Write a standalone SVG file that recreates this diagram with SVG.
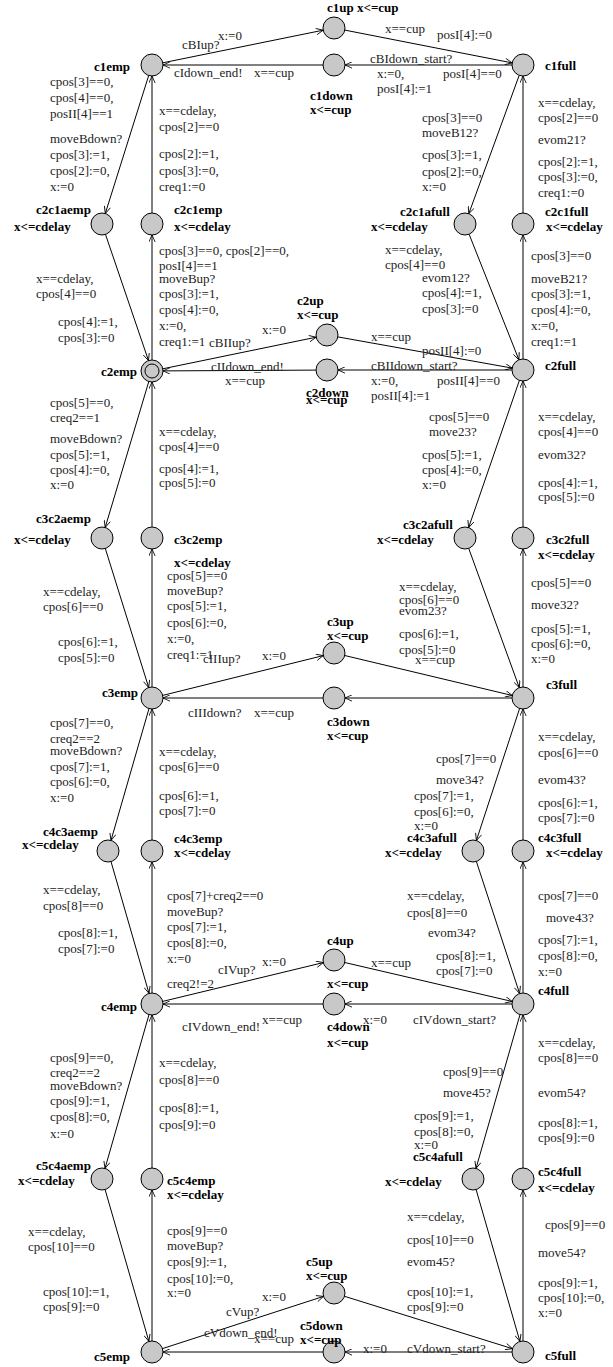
<svg xmlns="http://www.w3.org/2000/svg" width="613" height="1367" viewBox="0 0 613 1367">
<defs>
<marker id="ah" viewBox="0 0 10 10" refX="10" refY="5" markerWidth="8" markerHeight="7" markerUnits="userSpaceOnUse" orient="auto">
<path d="M0,0.5 L10,5 L0,9.5" fill="none" stroke="#000" stroke-width="1.2"/>
</marker>
</defs>
<style>
.nd{fill:#c8c8c8;stroke:#000;stroke-width:1}
.n{font-family:"Liberation Serif",serif;font-size:13px;font-weight:bold;fill:#000}
.l{font-family:"Liberation Serif",serif;font-size:13px;fill:#222}
.e{stroke:#000;stroke-width:1;fill:none;marker-end:url(#ah)}
</style>
<rect width="613" height="1367" fill="#fff"/>
<g id="connectors">
<!-- row 1 -->
<line class="e" x1="162.8" y1="62.8" x2="323.2" y2="30.2"/>
<line class="e" x1="344.8" y1="30.1" x2="512.2" y2="62.9"/>
<line class="e" x1="512" y1="65" x2="345" y2="65"/>
<line class="e" x1="323" y1="65" x2="163" y2="65"/>
<!-- row 2 -->
<line class="e" x1="162.8" y1="368.8" x2="316.2" y2="337.2"/>
<line class="e" x1="337.8" y1="336.9" x2="512.2" y2="368.1"/>
<line class="e" x1="512" y1="370" x2="338" y2="370"/>
<line class="e" x1="316" y1="370.1" x2="163" y2="370.9"/>
<!-- row 3 -->
<line class="e" x1="162.7" y1="695.4" x2="323.3" y2="655.6"/>
<line class="e" x1="344.7" y1="655.5" x2="512.3" y2="695.5"/>
<line class="e" x1="512" y1="698" x2="345" y2="698"/>
<line class="e" x1="323" y1="698" x2="163" y2="698"/>
<!-- row 4 -->
<line class="e" x1="162.7" y1="1001.4" x2="323.3" y2="962.6"/>
<line class="e" x1="344.7" y1="962.5" x2="512.3" y2="1001.5"/>
<line class="e" x1="512" y1="1004" x2="345" y2="1004"/>
<line class="e" x1="323" y1="1004" x2="163" y2="1004"/>
<!-- row 5 -->
<line class="e" x1="162.5" y1="1348.6" x2="323.5" y2="1296.4"/>
<line class="e" x1="344.5" y1="1296.3" x2="512.5" y2="1348.7"/>
<line class="e" x1="512" y1="1352" x2="345" y2="1352"/>
<line class="e" x1="323" y1="1352" x2="163" y2="1352"/>
<!-- verticals 1-2 -->
<line class="e" x1="148.7" y1="75.5" x2="105.3" y2="213.5"/>
<line class="e" x1="105.5" y1="234.4" x2="148.5" y2="360.6"/>
<line class="e" x1="152" y1="360" x2="152" y2="235"/>
<line class="e" x1="152" y1="213" x2="152" y2="76"/>
<line class="e" x1="519.2" y1="75.3" x2="468.8" y2="213.7"/>
<line class="e" x1="469.1" y1="234.2" x2="518.9" y2="359.8"/>
<line class="e" x1="523" y1="359" x2="523" y2="235"/>
<line class="e" x1="523" y1="213" x2="523" y2="76"/>
<!-- verticals 2-3 -->
<line class="e" x1="148.8" y1="381.5" x2="105.2" y2="527.5"/>
<line class="e" x1="105.3" y1="548.5" x2="148.7" y2="687.5"/>
<line class="e" x1="152" y1="687" x2="152" y2="549"/>
<line class="e" x1="152" y1="527" x2="152" y2="382"/>
<line class="e" x1="519.4" y1="380.4" x2="468.6" y2="527.6"/>
<line class="e" x1="468.7" y1="548.3" x2="519.3" y2="687.7"/>
<line class="e" x1="523" y1="687" x2="523" y2="549"/>
<line class="e" x1="523" y1="527" x2="523" y2="381"/>
<!-- verticals 3-4 -->
<line class="e" x1="149" y1="708.6" x2="111" y2="840.4"/>
<line class="e" x1="111" y1="861.6" x2="149" y2="993.4"/>
<line class="e" x1="152" y1="993" x2="152" y2="862"/>
<line class="e" x1="152" y1="840" x2="152" y2="709"/>
<line class="e" x1="519.6" y1="708.5" x2="476.4" y2="840.5"/>
<line class="e" x1="476.4" y1="861.5" x2="519.6" y2="993.5"/>
<line class="e" x1="523" y1="993" x2="523" y2="862"/>
<line class="e" x1="523" y1="840" x2="523" y2="709"/>
<!-- verticals 4-5 -->
<line class="e" x1="149" y1="1014.6" x2="105" y2="1168.4"/>
<line class="e" x1="105.1" y1="1189.6" x2="148.9" y2="1341.4"/>
<line class="e" x1="152" y1="1341" x2="152" y2="1190"/>
<line class="e" x1="152" y1="1168" x2="152" y2="1015"/>
<line class="e" x1="520" y1="1014.6" x2="476" y2="1168.4"/>
<line class="e" x1="476.1" y1="1189.6" x2="519.9" y2="1341.4"/>
<line class="e" x1="523" y1="1341" x2="523" y2="1190"/>
<line class="e" x1="523" y1="1168" x2="523" y2="1015"/>
</g>
<g id="edge-labels">
<!-- row 1 -->
<text class="l" x="182" y="49">cBIup?</text>
<text class="l" x="218" y="40">x:=0</text>
<text class="l" x="385" y="33">x==cup</text>
<text class="l" x="437" y="39">posI[4]:=0</text>
<text class="l" x="370" y="63">cBIdown_start?</text>
<text class="l" x="377" y="78">x:=0,</text>
<text class="l" x="443" y="78">posI[4]==0</text>
<text class="l" x="377" y="93">posI[4]:=1</text>
<text class="l" x="174" y="77">cIdown_end!</text>
<text class="l" x="254" y="77">x==cup</text>
<!-- row 2 -->
<text class="l" x="209" y="347">cBIIup?</text>
<text class="l" x="262" y="334">x:=0</text>
<text class="l" x="371" y="341">x==cup</text>
<text class="l" x="422" y="355">posII[4]:=0</text>
<text class="l" x="371" y="370">cBIIdown_start?</text>
<text class="l" x="371" y="385">x:=0,</text>
<text class="l" x="437" y="385">posII[4]==0</text>
<text class="l" x="371" y="400">posII[4]:=1</text>
<text class="l" x="211" y="371">cIIdown_end!</text>
<text class="l" x="225" y="385">x==cup</text>
<!-- row 3 -->
<text class="l" x="203" y="663">cIIIup?</text>
<text class="l" x="262" y="660">x:=0</text>
<text class="l" x="415" y="664">x==cup</text>
<text class="l" x="188" y="717">cIIIdown?</text>
<text class="l" x="254" y="717">x==cup</text>
<!-- row 4 -->
<text class="l" x="167" y="988">creq2!=2</text>
<text class="l" x="218" y="974">cIVup?</text>
<text class="l" x="262" y="966">x:=0</text>
<text class="l" x="371" y="967">x==cup</text>
<text class="l" x="363" y="1024">x:=0</text>
<text class="l" x="413" y="1024">cIVdown_start?</text>
<text class="l" x="182" y="1031">cIVdown_end!</text>
<text class="l" x="262" y="1024">x==cup</text>
<!-- row 5 -->
<text class="l" x="226" y="1316">cVup?</text>
<text class="l" x="262" y="1301">x:=0</text>
<text class="l" x="363" y="1353">x:=0</text>
<text class="l" x="407" y="1353">cVdown_start?</text>
<text class="l" x="204" y="1337">cVdown_end!</text>
<text class="l" x="254" y="1343">x==cup</text>
<!-- left 1-2 -->
<text class="l" x="50" y="86">cpos[3]==0,</text>
<text class="l" x="50" y="102">cpos[4]==0,</text>
<text class="l" x="50" y="118">posII[4]==1</text>
<text class="l" x="50" y="143">moveBdown?</text>
<text class="l" x="50" y="159">cpos[3]:=1,</text>
<text class="l" x="50" y="175">cpos[2]:=0,</text>
<text class="l" x="50" y="191">x:=0</text>
<text class="l" x="159" y="115">x==cdelay,</text>
<text class="l" x="159" y="131">cpos[2]==0</text>
<text class="l" x="159" y="158">cpos[2]:=1,</text>
<text class="l" x="159" y="175">cpos[3]:=0,</text>
<text class="l" x="159" y="191">creq1:=0</text>
<text class="l" x="36" y="283">x==cdelay,</text>
<text class="l" x="36" y="298">cpos[4]==0</text>
<text class="l" x="58" y="326">cpos[4]:=1,</text>
<text class="l" x="58" y="342">cpos[3]:=0</text>
<text class="l" x="159" y="255">cpos[3]==0, cpos[2]==0,</text>
<text class="l" x="159" y="270">posI[4]==1</text>
<text class="l" x="159" y="283">moveBup?</text>
<text class="l" x="159" y="298">cpos[3]:=1,</text>
<text class="l" x="159" y="314">cpos[4]:=0,</text>
<text class="l" x="159" y="330">x:=0,</text>
<text class="l" x="159" y="346">creq1:=1</text>
<!-- right 1-2 -->
<text class="l" x="422" y="122">cpos[3]==0</text>
<text class="l" x="422" y="137">moveB12?</text>
<text class="l" x="422" y="159">cpos[3]:=1,</text>
<text class="l" x="422" y="176">cpos[2]:=0,</text>
<text class="l" x="422" y="191">x:=0</text>
<text class="l" x="538" y="107">x==cdelay,</text>
<text class="l" x="538" y="122">cpos[2]==0</text>
<text class="l" x="538" y="144">evom21?</text>
<text class="l" x="538" y="166">cpos[2]:=1,</text>
<text class="l" x="538" y="181">cpos[3]:=0,</text>
<text class="l" x="538" y="197">creq1:=0</text>
<text class="l" x="385" y="254">x==cdelay,</text>
<text class="l" x="385" y="269">cpos[4]==0</text>
<text class="l" x="422" y="282">evom12?</text>
<text class="l" x="422" y="297">cpos[4]:=1,</text>
<text class="l" x="422" y="313">cpos[3]:=0</text>
<text class="l" x="531" y="260">cpos[3]==0</text>
<text class="l" x="531" y="283">moveB21?</text>
<text class="l" x="531" y="298">cpos[3]:=1,</text>
<text class="l" x="531" y="314">cpos[4]:=0,</text>
<text class="l" x="531" y="330">x:=0,</text>
<text class="l" x="531" y="346">creq1:=1</text>
<!-- left 2-3 -->
<text class="l" x="50" y="407">cpos[5]==0,</text>
<text class="l" x="50" y="422">creq2==1</text>
<text class="l" x="50" y="443">moveBdown?</text>
<text class="l" x="50" y="459">cpos[5]:=1,</text>
<text class="l" x="50" y="474">cpos[4]:=0,</text>
<text class="l" x="50" y="489">x:=0</text>
<text class="l" x="159" y="436">x==cdelay,</text>
<text class="l" x="159" y="451">cpos[4]==0</text>
<text class="l" x="159" y="473">cpos[4]:=1,</text>
<text class="l" x="159" y="487">cpos[5]:=0</text>
<text class="l" x="43" y="596">x==cdelay,</text>
<text class="l" x="43" y="611">cpos[6]==0</text>
<text class="l" x="58" y="646">cpos[6]:=1,</text>
<text class="l" x="58" y="662">cpos[5]:=0</text>
<text class="l" x="167" y="580">cpos[5]==0</text>
<text class="l" x="167" y="595">moveBup?</text>
<text class="l" x="167" y="610">cpos[5]:=1,</text>
<text class="l" x="167" y="627">cpos[6]:=0,</text>
<text class="l" x="167" y="643">x:=0,</text>
<text class="l" x="167" y="659">creq1:=1</text>
<!-- right 2-3 -->
<text class="l" x="429" y="421">cpos[5]==0</text>
<text class="l" x="429" y="436">move23?</text>
<text class="l" x="422" y="459">cpos[5]:=1,</text>
<text class="l" x="422" y="474">cpos[4]:=0,</text>
<text class="l" x="422" y="489">x:=0</text>
<text class="l" x="538" y="421">x==cdelay,</text>
<text class="l" x="538" y="436">cpos[4]==0</text>
<text class="l" x="538" y="459">evom32?</text>
<text class="l" x="538" y="487">cpos[4]:=1,</text>
<text class="l" x="538" y="501">cpos[5]:=0</text>
<text class="l" x="399" y="591">x==cdelay,</text>
<text class="l" x="399" y="604">cpos[6]==0</text>
<text class="l" x="399" y="615">evom23?</text>
<text class="l" x="399" y="638">cpos[6]:=1,</text>
<text class="l" x="399" y="654">cpos[5]:=0</text>
<text class="l" x="531" y="587">cpos[5]==0</text>
<text class="l" x="531" y="609">move32?</text>
<text class="l" x="531" y="633">cpos[5]:=1,</text>
<text class="l" x="531" y="648">cpos[6]:=0,</text>
<text class="l" x="531" y="663">x:=0</text>
<!-- left 3-4 -->
<text class="l" x="50" y="727">cpos[7]==0,</text>
<text class="l" x="50" y="743">creq2==2</text>
<text class="l" x="50" y="755">moveBdown?</text>
<text class="l" x="50" y="771">cpos[7]:=1,</text>
<text class="l" x="50" y="786">cpos[6]:=0,</text>
<text class="l" x="50" y="802">x:=0</text>
<text class="l" x="159" y="756">x==cdelay,</text>
<text class="l" x="159" y="771">cpos[6]==0</text>
<text class="l" x="159" y="800">cpos[6]:=1,</text>
<text class="l" x="159" y="815">cpos[7]:=0</text>
<text class="l" x="43" y="894">x==cdelay,</text>
<text class="l" x="43" y="910">cpos[8]==0</text>
<text class="l" x="58" y="937">cpos[8]:=1,</text>
<text class="l" x="58" y="953">cpos[7]:=0</text>
<text class="l" x="167" y="900">cpos[7]+creq2==0</text>
<text class="l" x="167" y="916">moveBup?</text>
<text class="l" x="167" y="931">cpos[7]:=1,</text>
<text class="l" x="167" y="947">cpos[8]:=0,</text>
<text class="l" x="167" y="963">x:=0</text>
<!-- right 3-4 -->
<text class="l" x="436" y="763">cpos[7]==0</text>
<text class="l" x="436" y="784">move34?</text>
<text class="l" x="414" y="800">cpos[7]:=1,</text>
<text class="l" x="414" y="816">cpos[6]:=0,</text>
<text class="l" x="414" y="830">x:=0</text>
<text class="l" x="538" y="741">x==cdelay,</text>
<text class="l" x="538" y="757">cpos[6]==0</text>
<text class="l" x="538" y="784">evom43?</text>
<text class="l" x="538" y="807">cpos[6]:=1,</text>
<text class="l" x="538" y="822">cpos[7]:=0</text>
<text class="l" x="407" y="900">x==cdelay,</text>
<text class="l" x="407" y="917">cpos[8]==0</text>
<text class="l" x="428" y="937">evom34?</text>
<text class="l" x="436" y="960">cpos[8]:=1,</text>
<text class="l" x="436" y="975">cpos[7]:=0</text>
<text class="l" x="538" y="900">cpos[7]==0</text>
<text class="l" x="546" y="922">move43?</text>
<text class="l" x="538" y="944">cpos[7]:=1,</text>
<text class="l" x="538" y="960">cpos[8]:=0,</text>
<text class="l" x="538" y="976">x:=0</text>
<!-- left 4-5 -->
<text class="l" x="50" y="1062">cpos[9]==0,</text>
<text class="l" x="50" y="1077">creq2==2</text>
<text class="l" x="50" y="1090">moveBdown?</text>
<text class="l" x="50" y="1105">cpos[9]:=1,</text>
<text class="l" x="50" y="1121">cpos[8]:=0,</text>
<text class="l" x="50" y="1138">x:=0</text>
<text class="l" x="159" y="1067">x==cdelay,</text>
<text class="l" x="159" y="1084">cpos[8]==0</text>
<text class="l" x="159" y="1112">cpos[8]:=1,</text>
<text class="l" x="159" y="1129">cpos[9]:=0</text>
<text class="l" x="28" y="1236">x==cdelay,</text>
<text class="l" x="28" y="1251">cpos[10]==0</text>
<text class="l" x="43" y="1296">cpos[10]:=1,</text>
<text class="l" x="43" y="1311">cpos[9]:=0</text>
<text class="l" x="167" y="1235">cpos[9]==0</text>
<text class="l" x="167" y="1250">moveBup?</text>
<text class="l" x="167" y="1266">cpos[9]:=1,</text>
<text class="l" x="167" y="1283">cpos[10]:=0,</text>
<text class="l" x="167" y="1297">x:=0</text>
<!-- right 4-5 -->
<text class="l" x="443" y="1076">cpos[9]==0</text>
<text class="l" x="443" y="1097">move45?</text>
<text class="l" x="414" y="1120">cpos[9]:=1,</text>
<text class="l" x="414" y="1136">cpos[8]:=0,</text>
<text class="l" x="414" y="1149">x:=0</text>
<text class="l" x="538" y="1047">x==cdelay,</text>
<text class="l" x="538" y="1062">cpos[8]==0</text>
<text class="l" x="538" y="1097">evom54?</text>
<text class="l" x="538" y="1127">cpos[8]:=1,</text>
<text class="l" x="538" y="1142">cpos[9]:=0</text>
<text class="l" x="407" y="1221">x==cdelay,</text>
<text class="l" x="407" y="1244">cpos[10]==0</text>
<text class="l" x="407" y="1266">evom45?</text>
<text class="l" x="407" y="1296">cpos[10]:=1,</text>
<text class="l" x="407" y="1311">cpos[9]:=0</text>
<text class="l" x="545" y="1229">cpos[9]==0</text>
<text class="l" x="538" y="1257">move54?</text>
<text class="l" x="538" y="1287">cpos[9]:=1,</text>
<text class="l" x="538" y="1302">cpos[10]:=0,</text>
<text class="l" x="538" y="1317">x:=0</text>
</g>
<!-- nodes -->
<g id="c1emp"><circle class="nd" cx="152" cy="65" r="11"/><text class="n" x="94" y="71">c1emp</text></g>
<g id="c1up"><circle class="nd" cx="334" cy="28" r="11"/><text class="n" x="327" y="12">c1up x&lt;=cup</text></g>
<g id="c1down"><circle class="nd" cx="334" cy="65" r="11"/><text class="n" x="310" y="100">c1down</text><text class="n" x="310" y="114">x&lt;=cup</text></g>
<g id="c1full"><circle class="nd" cx="523" cy="65" r="11"/><text class="n" x="545" y="70">c1full</text></g>
<g id="c2c1aemp"><circle class="nd" cx="102" cy="224" r="11"/><text class="n" x="36" y="214">c2c1aemp</text><text class="n" x="14" y="231">x&lt;=cdelay</text></g>
<g id="c2c1emp"><circle class="nd" cx="152" cy="224" r="11"/><text class="n" x="174" y="214">c2c1emp</text><text class="n" x="174" y="231">x&lt;=cdelay</text></g>
<g id="c2c1afull"><circle class="nd" cx="465" cy="224" r="11"/><text class="n" x="400" y="216">c2c1afull</text><text class="n" x="371" y="231">x&lt;=cdelay</text></g>
<g id="c2c1full"><circle class="nd" cx="523" cy="224" r="11"/><text class="n" x="545" y="216">c2c1full</text><text class="n" x="546" y="231">x&lt;=cdelay</text></g>
<g id="c2emp"><circle class="nd" cx="152" cy="371" r="11"/><circle class="nd" cx="152" cy="371" r="7"/><text class="n" x="101" y="376">c2emp</text></g>
<g id="c2up"><circle class="nd" cx="327" cy="335" r="11"/><text class="n" x="297" y="305">c2up</text><text class="n" x="297" y="319">x&lt;=cup</text></g>
<g id="c2down"><circle class="nd" cx="327" cy="370" r="11"/><text class="n" x="306" y="397">c2down</text><text class="n" x="306" y="404">x&lt;=cup</text></g>
<g id="c2full"><circle class="nd" cx="523" cy="370" r="11"/><text class="n" x="545" y="370">c2full</text></g>
<g id="c3c2aemp"><circle class="nd" cx="102" cy="538" r="11"/><text class="n" x="36" y="523">c3c2aemp</text><text class="n" x="14" y="544">x&lt;=cdelay</text></g>
<g id="c3c2emp"><circle class="nd" cx="152" cy="538" r="11"/><text class="n" x="174" y="544">c3c2emp</text><text class="n" x="174" y="567">x&lt;=cdelay</text></g>
<g id="c3c2afull"><circle class="nd" cx="465" cy="538" r="11"/><text class="n" x="403" y="529">c3c2afull</text><text class="n" x="377" y="544">x&lt;=cdelay</text></g>
<g id="c3c2full"><circle class="nd" cx="523" cy="538" r="11"/><text class="n" x="546" y="544">c3c2full</text><text class="n" x="538" y="559">x&lt;=cdelay</text></g>
<g id="c3emp"><circle class="nd" cx="152" cy="698" r="11"/><text class="n" x="102" y="697">c3emp</text></g>
<g id="c3up"><circle class="nd" cx="334" cy="653" r="11"/><text class="n" x="327" y="626">c3up</text><text class="n" x="327" y="640">x&lt;=cup</text></g>
<g id="c3down"><circle class="nd" cx="334" cy="698" r="11"/><text class="n" x="327" y="726">c3down</text><text class="n" x="327" y="740">x&lt;=cup</text></g>
<g id="c3full"><circle class="nd" cx="523" cy="698" r="11"/><text class="n" x="546" y="689">c3full</text></g>
<g id="c4c3aemp"><circle class="nd" cx="108" cy="851" r="11"/><text class="n" x="43" y="836">c4c3aemp</text><text class="n" x="22" y="849">x&lt;=cdelay</text></g>
<g id="c4c3emp"><circle class="nd" cx="152" cy="851" r="11"/><text class="n" x="174" y="843">c4c3emp</text><text class="n" x="174" y="857">x&lt;=cdelay</text></g>
<g id="c4c3afull"><circle class="nd" cx="473" cy="851" r="11"/><text class="n" x="407" y="842">c4c3afull</text><text class="n" x="385" y="857">x&lt;=cdelay</text></g>
<g id="c4c3full"><circle class="nd" cx="523" cy="851" r="11"/><text class="n" x="538" y="842">c4c3full</text><text class="n" x="546" y="857">x&lt;=cdelay</text></g>
<g id="c4emp"><circle class="nd" cx="152" cy="1004" r="11"/><text class="n" x="101" y="1011">c4emp</text></g>
<g id="c4up"><circle class="nd" cx="334" cy="960" r="11"/><text class="n" x="327" y="945">c4up</text><text class="n" x="327" y="988">x&lt;=cup</text></g>
<g id="c4down"><circle class="nd" cx="334" cy="1004" r="11"/><text class="n" x="327" y="1031">c4down</text><text class="n" x="327" y="1047">x&lt;=cup</text></g>
<g id="c4full"><circle class="nd" cx="523" cy="1004" r="11"/><text class="n" x="538" y="995">c4full</text></g>
<g id="c5c4aemp"><circle class="nd" cx="102" cy="1179" r="11"/><text class="n" x="36" y="1170">c5c4aemp</text><text class="n" x="18" y="1185">x&lt;=cdelay</text></g>
<g id="c5c4emp"><circle class="nd" cx="152" cy="1179" r="11"/><text class="n" x="167" y="1185">c5c4emp</text><text class="n" x="167" y="1199">x&lt;=cdelay</text></g>
<g id="c5c4afull"><circle class="nd" cx="473" cy="1179" r="11"/><text class="n" x="413" y="1161">c5c4afull</text><text class="n" x="385" y="1186">x&lt;=cdelay</text></g>
<g id="c5c4full"><circle class="nd" cx="523" cy="1179" r="11"/><text class="n" x="538" y="1176">c5c4full</text><text class="n" x="538" y="1192">x&lt;=cdelay</text></g>
<g id="c5emp"><circle class="nd" cx="152" cy="1352" r="11"/><text class="n" x="94" y="1361">c5emp</text></g>
<g id="c5up"><circle class="nd" cx="334" cy="1293" r="11"/><text class="n" x="306" y="1266">c5up</text><text class="n" x="306" y="1280">x&lt;=cup</text></g>
<g id="c5down"><circle class="nd" cx="334" cy="1352" r="11"/><text class="n" x="300" y="1330">c5down</text><text class="n" x="300" y="1344">x&lt;=cup</text></g>
<g id="c5full"><circle class="nd" cx="523" cy="1352" r="11"/><text class="n" x="545" y="1360">c5full</text></g>
</svg>
